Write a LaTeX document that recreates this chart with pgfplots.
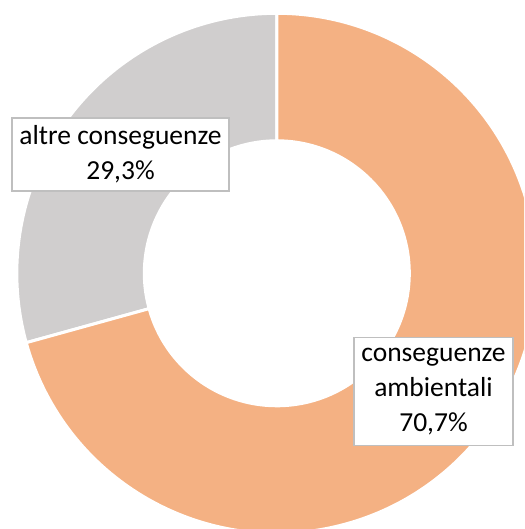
\documentclass[border=0pt]{standalone}
\usepackage{fontspec}
\setmainfont{Carlito}
\usepackage{pgfplots}
\usepackage{pgfplotstable}
\pgfplotsset{compat=1.18}
\definecolor{sliceorange}{HTML}{F4B183}
\definecolor{slicegray}{HTML}{D0CECE}
\definecolor{boxgray}{HTML}{BFBFBF}
\newcommand\sector[3]{%
  \filldraw[fill=#1, draw=white, line width=3pt]
    (axis cs:{cos(#2)},{sin(#2)}) arc[start angle=#2, end angle=#3, radius=1]
    -- (axis cs:{0.5096*cos(#3)},{0.5096*sin(#3)}) arc[start angle=#3, end angle=#2, radius=0.5096]
    -- cycle;}
\begin{document}
\begin{tikzpicture}
\pgfplotstableread{
label value
ambientali 70.7
altre 29.3
}\piedata
\pgfplotstablegetelem{0}{value}\of\piedata \let\valA\pgfplotsretval
\pgfplotstablegetelem{1}{value}\of\piedata \let\valB\pgfplotsretval
\pgfmathsetmacro\angB{90+3.6*\valB}
\pgfmathsetmacro\angEnd{\angB+3.6*\valA}
\useasboundingbox (0,0) rectangle (524pt,529pt);
\begin{axis}[
  at={(0,0)}, anchor=south west,
  scale only axis, width=524pt, height=529pt,
  xmin=-1.06462, xmax=0.95077, ymin=-0.98346, ymax=1.05115,
  hide axis, clip=true,
]
\sector{slicegray}{90}{\angB}
\sector{sliceorange}{\angB}{\angEnd}
\node[draw=boxgray, line width=1.2pt, fill=white, align=center,
      minimum width=217pt, minimum height=73pt, inner sep=0pt,
      font=\fontsize{27.5}{35}\selectfont]
  at (axis cs:-0.6012,0.4569) {altre conseguenze\\29,3\%};
\node[draw=boxgray, line width=1.2pt, fill=white, align=center,
      minimum width=159pt, minimum height=108pt, inner sep=0pt,
      font=\fontsize{27.5}{35}\selectfont]
  at (axis cs:0.6027,-0.4538) {conseguenze\\ambientali\\70,7\%};
\end{axis}
\end{tikzpicture}
\end{document}
